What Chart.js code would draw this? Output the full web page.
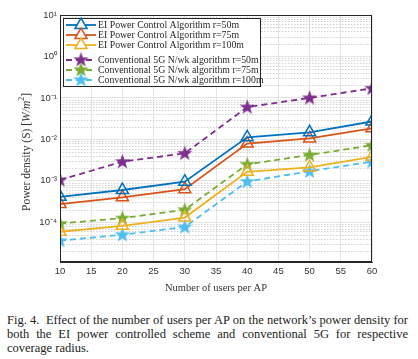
<!DOCTYPE html>
<html>
<head>
<meta charset="utf-8">
<script src="https://cdn.jsdelivr.net/npm/chart.js@4/dist/chart.umd.min.js"></script>
<style>
  html, body { margin: 0; padding: 0; background: #fff; }
  #wrap { position: relative; width: 418px; height: 295px; }
  #caption {
    margin: 18px 10px 0 7px;
    font-family: "Liberation Serif", "Times New Roman", serif;
    font-size: 12.5px;
    line-height: 14px;
    text-align: justify;
    color: #222;
  }
</style>
</head>
<body>
<div id="wrap"><canvas id="chart"></canvas></div>
<p id="caption">Fig. 4.&nbsp; Effect of the number of users per AP on the network’s power density for both the EI power controlled scheme and conventional 5G for respective coverage radius.</p>
<script>
// users per AP
const users = [10, 20, 30, 40, 50, 60];

// power density values (W/m^2)
const eiR50 = [4.1e-4, 6.0e-4, 9.5e-4, 1.12e-2, 1.48e-2, 2.7e-2];
const eiR75 = [2.75e-4, 4.0e-4, 6.3e-4, 7.9e-3, 1.05e-2, 1.85e-2];
const eiR100 = [5.9e-5, 8.2e-5, 1.3e-4, 1.65e-3, 2.1e-3, 3.8e-3];
const convR50 = [1.05e-3, 2.9e-3, 4.6e-3, 6.0e-2, 1.0e-1, 1.7e-1];
const convR75 = [9.3e-5, 1.26e-4, 2.0e-4, 2.5e-3, 4.2e-3, 7.2e-3];
const convR100 = [3.6e-5, 5.0e-5, 7.7e-5, 9.6e-4, 1.7e-3, 2.9e-3];

const seriesLabels = [
  "EI Power Control Algorithm r=50m",
  "EI Power Control Algorithm r=75m",
  "EI Power Control Algorithm r=100m",
  "Conventional 5G N/wk algorithm r=50m",
  "Conventional 5G N/wk algorithm r=75m",
  "Conventional 5G N/wk algorithm r=100m",
];
const seriesValues = [eiR50, eiR75, eiR100, convR50, convR75, convR100];
const seriesColors = ["#0072BD", "#D95319", "#EDB120", "#7E2F8E", "#77AC30", "#4DBEEE"];

const SERIF = "'Liberation Serif', 'Times New Roman', serif";
const SANS = "'Liberation Sans', Arial, sans-serif";

// filled pentagram used as point style
function makeStar(color) {
  const c = document.createElement("canvas");
  c.width = 17; c.height = 17;
  const g = c.getContext("2d");
  const R = 8, r = 3.3, cx = 8.5, cy = 8.8;
  g.beginPath();
  for (let i = 0; i < 10; i++) {
    const rad = i % 2 === 0 ? R : r;
    const a = -Math.PI / 2 + i * Math.PI / 5;
    const px = cx + rad * Math.cos(a), py = cy + rad * Math.sin(a);
    if (i === 0) g.moveTo(px, py); else g.lineTo(px, py);
  }
  g.closePath();
  g.fillStyle = color;
  g.fill();
  return c;
}

const datasets = seriesValues.map((vals, i) => {
  const conv = i >= 3;
  return {
    label: seriesLabels[i],
    data: users.map((u, j) => ({ x: u, y: vals[j] })),
    borderColor: seriesColors[i],
    backgroundColor: seriesColors[i],
    borderWidth: 1.8,
    borderDash: conv ? [6, 4] : [],
    pointStyle: conv ? makeStar(seriesColors[i]) : "triangle",
    pointRadius: 7,
    pointBorderWidth: 1.5,
    pointBackgroundColor: conv ? seriesColors[i] : "rgba(255,255,255,0)",
    pointBorderColor: seriesColors[i],
    tension: 0,
  };
});

const SUP = { "-": "⁻", "0": "⁰", "1": "¹", "2": "²", "3": "³", "4": "⁴", "5": "⁵", "6": "⁶", "7": "⁷", "8": "⁸", "9": "⁹" };
function isDecade(v) {
  const e = Math.log10(v);
  return Math.abs(e - Math.round(e)) < 1e-9;
}

// minor grid (dotted), box, y title and legend
const extras = {
  id: "extras",
  beforeDatasetsDraw(chart) {
    const { ctx, chartArea: a, scales } = chart;
    ctx.save();
    ctx.strokeStyle = "#c8c8c8";
    ctx.lineWidth = 0.8;
    ctx.setLineDash([1.5, 1.5]);
    scales.y.ticks.forEach(t => {
      if (isDecade(t.value)) return;
      const y = Math.round(scales.y.getPixelForValue(t.value)) + 0.5;
      ctx.beginPath();
      ctx.moveTo(a.left, y);
      ctx.lineTo(a.right, y);
      ctx.stroke();
    });
    ctx.restore();
  },
  afterDraw(chart) {
    const { ctx, chartArea: a } = chart;
    ctx.save();
    ctx.strokeStyle = "#262626";
    ctx.lineWidth = 1;
    ctx.strokeRect(a.left + 0.5, a.top + 0.5, a.right - a.left - 1, a.bottom - a.top - 1);

    // y axis title, mixed upright / italic
    const parts = [
      ["Power density (S) [", "11.5px " + SERIF, 0],
      ["W/m", "italic 11.5px " + SERIF, 0],
      ["2", "8px " + SERIF, -5],
      ["]", "11.5px " + SERIF, 0],
    ];
    let total = 0;
    parts.forEach(p => { ctx.font = p[1]; total += ctx.measureText(p[0]).width; });
    ctx.translate(27, 152);
    ctx.rotate(-Math.PI / 2);
    ctx.fillStyle = "#333";
    ctx.textBaseline = "middle";
    let tx = -total / 2;
    parts.forEach(p => {
      ctx.font = p[1];
      ctx.fillText(p[0], tx, p[2]);
      tx += ctx.measureText(p[0]).width;
    });
    ctx.setTransform(1, 0, 0, 1, 0, 0);

    // legend
    const lx = a.left + 3, ly = a.top + 3, lw = 197, lh = 68;
    ctx.fillStyle = "#fff";
    ctx.fillRect(lx, ly, lw, lh);
    ctx.strokeRect(lx + 0.5, ly + 0.5, lw, lh);
    const rows = [7, 17, 27, 42, 52, 62];
    ctx.font = "9.8px " + SERIF;
    ctx.textBaseline = "middle";
    datasets.forEach((ds, i) => {
      const y = ly + rows[i];
      const conv = i >= 3;
      ctx.strokeStyle = ds.borderColor;
      ctx.lineWidth = 1.8;
      ctx.setLineDash(conv ? [6, 4] : []);
      ctx.beginPath();
      ctx.moveTo(lx + 3, y);
      ctx.lineTo(lx + 33, y);
      ctx.stroke();
      ctx.setLineDash([]);
      if (conv) {
        ctx.drawImage(ds.pointStyle, lx + 18 - 8.5, y - 8.8);
      } else {
        ctx.lineWidth = 1.5;
        ctx.fillStyle = "#fff";
        Chart.helpers.drawPoint(ctx, { pointStyle: "triangle", radius: 7, borderWidth: 1.5 }, lx + 18, y);
      }
      ctx.fillStyle = "#262626";
      ctx.fillText(ds.label, lx + 35, y + 0.5);
    });
    ctx.restore();
  }
};

new Chart(document.getElementById("chart"), {
  type: "line",
  data: { datasets },
  plugins: [extras],
  options: {
    responsive: true,
    maintainAspectRatio: false,
    devicePixelRatio: 1,
    animation: false,
    layout: { padding: { top: 15, right: 46, left: 0, bottom: 0 } },
    plugins: { legend: { display: false }, tooltip: { enabled: false } },
    scales: {
      x: {
        type: "linear",
        min: 10,
        max: 60,
        ticks: { stepSize: 5, color: "#333", font: { family: SANS, size: 9.5 }, padding: 4 },
        grid: { color: "#e4e4e4", drawTicks: false },
        border: { color: "#262626" },
        title: { display: true, text: "Number of users per AP", color: "#333", font: { family: SERIF, size: 10.5 }, padding: { top: 1, bottom: 0 } },
        afterFit(s) { s.height = 33; },
      },
      y: {
        type: "logarithmic",
        min: 1.1e-5,
        max: 10,
        afterBuildTicks(s) {
          const ticks = [];
          for (let e = -5; e <= 1; e++) {
            for (let k = 1; k <= 9; k++) {
              const v = k * Math.pow(10, e);
              if (v >= s.min && v <= s.max * 1.0001) ticks.push({ value: v });
              if (e === 1) break;
            }
          }
          s.ticks = ticks;
        },
        ticks: {
          autoSkip: false,
          color: "#333",
          font: { family: SANS, size: 9.5 },
          padding: 3,
          callback(v) {
            if (!isDecade(v)) return "";
            const e = String(Math.round(Math.log10(v)));
            return "10" + e.split("").map(c => SUP[c]).join("");
          },
        },
        grid: {
          drawTicks: false,
          color: ctx => (ctx.tick && isDecade(ctx.tick.value) ? "#e4e4e4" : "rgba(0,0,0,0)"),
        },
        border: { color: "#262626" },
        title: { display: false },
        afterFit(s) { s.width = 60; },
      },
    },
  },
});
</script>
</body>
</html>
